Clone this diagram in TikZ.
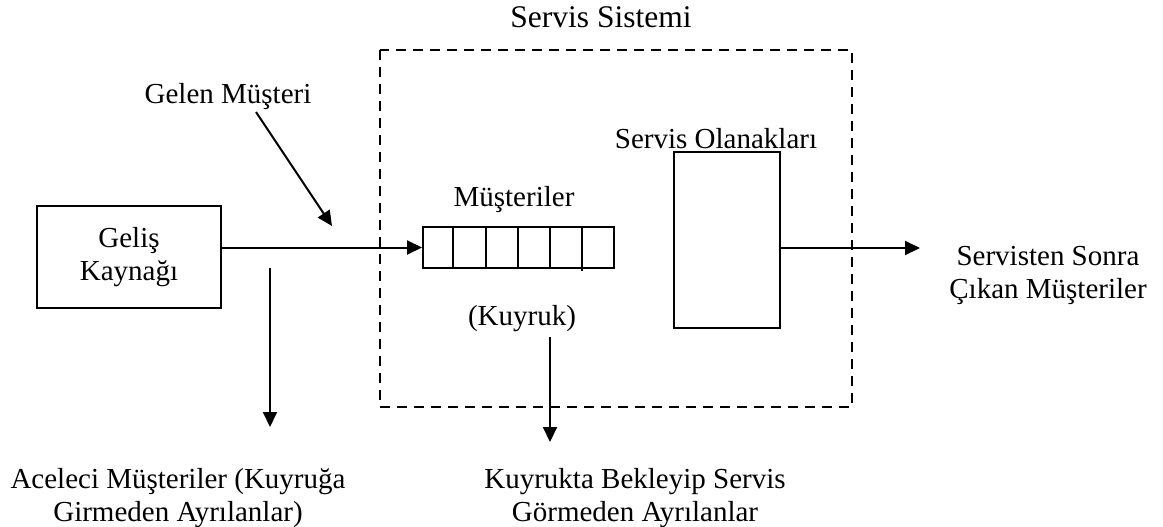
\documentclass[tikz,border=0pt]{standalone}
\usepackage{fontspec}
\setmainfont{Liberation Serif}
\usetikzlibrary{arrows.meta,calc}
\begin{document}
\begin{tikzpicture}[x=1pt,y=-1pt,
  txt/.style={inner sep=0pt,align=center,font=\fontsize{29}{33}\selectfont},
  box/.style={draw,line width=2pt,inner sep=0pt},
  arr/.style={line width=2pt,-{Triangle[length=15pt,width=14pt]}},
  sysbox/.style={line width=2.6pt,dash pattern=on 10pt off 7pt}]
\useasboundingbox (0,0) rectangle (1163,527);

% service system boundary
\draw[sysbox] (380,50) rectangle (852,407);
\node[txt,anchor=base,font=\fontsize{31.5}{36}\selectfont] (title) at (601,28) {Servis Sistemi};

% arrival source
\node[box,txt,minimum width=184pt,minimum height=102pt] (src) at (129,257) {Geliş\\Kaynağı};

% queue with its cells
\node[box,minimum width=191pt,minimum height=41pt] (queue) at (518.5,247.5) {};
\foreach \cx in {453,486,518,550}
  \draw[line width=2pt] (\cx,227) -- (\cx,268);
\draw[line width=2pt] (582,227) -- (582,271);
\node[txt,anchor=base] (mlabel) at (514,206) {Müşteriler};
\node[txt,anchor=base] (klabel) at (522,325) {(Kuyruk)};

% service facility
\node[box,minimum width=106pt,minimum height=176pt] (srv) at (727,240) {};
\node[txt,anchor=base] (slabel) at (716,148) {Servis Olanakları};

% labels (base anchor of a two-line node sits on its last line)
\node[txt,anchor=base] (gelen) at (228,103) {Gelen Müşteri};
\node[txt,anchor=base] (out) at (1048,298) {Servisten Sonra\\Çıkan Müşteriler};
\node[txt,anchor=base] (balk) at (178,521) {Aceleci Müşteriler (Kuyruğa\\Girmeden Ayrılanlar)};
\node[txt,anchor=base] (reneg) at (635,521) {Kuyrukta Bekleyip Servis\\Görmeden Ayrılanlar};

% connector end points
\coordinate (gelenStart) at (256,112);
\coordinate (gelenTip) at (332,226);
\coordinate (balkStart) at (270,268);
\coordinate (balkTip) at (270,427);
\coordinate (renegStart) at (550,337);
\coordinate (renegTip) at (550,442);
\coordinate (outTip) at (920,248);

% flows
\draw[arr] (src.east |- queue.west) -- (queue.west);
\draw[arr] (gelenStart) -- (gelenTip);
\draw[arr] (balkStart) -- (balkTip);
\draw[arr] (renegStart) -- (renegTip);
\draw[arr] (srv.east |- outTip) -- (outTip);
\end{tikzpicture}
\end{document}
